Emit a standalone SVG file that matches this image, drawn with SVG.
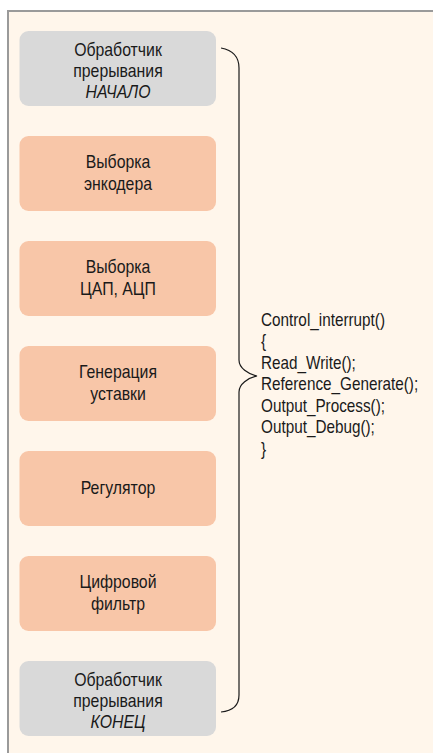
<svg xmlns="http://www.w3.org/2000/svg" width="433" height="753" viewBox="0 0 433 753">
<style>
.t{font-family:"Liberation Sans",Arial,sans-serif;font-size:18px;fill:#1a1a1a;text-anchor:middle}
.i{font-style:italic}
.c{font-family:"Liberation Sans",Arial,sans-serif;font-size:18px;fill:#1a1a1a}
.g{fill:#d9d9d9}
.o{fill:#f8c6a8}
</style>
<rect x="0" y="0" width="433" height="753" fill="#ffffff"/>
<rect x="8" y="11" width="440" height="760" fill="#fff6eb" stroke="#9a9a9a" stroke-width="2"/>
<g id="n1"><rect class="g" x="19.5" y="31" width="196.5" height="75" rx="9"/>
<g transform="matrix(0.88,0,0,1,118,0)"><text class="t" x="0" y="56">Обработчик</text><text class="t" x="0" y="77">прерывания</text><text class="t i" x="0" y="98">НАЧАЛО</text></g></g>
<g id="n2"><rect class="o" x="19.5" y="136" width="196.5" height="75" rx="9"/>
<g transform="matrix(0.88,0,0,1,118,0)"><text class="t" x="0" y="168">Выборка</text><text class="t" x="0" y="190">энкодера</text></g></g>
<g id="n3"><rect class="o" x="19.5" y="241" width="196.5" height="75" rx="9"/>
<g transform="matrix(0.88,0,0,1,118,0)"><text class="t" x="0" y="273">Выборка</text><text class="t" x="0" y="295">ЦАП, АЦП</text></g></g>
<g id="n4"><rect class="o" x="19.5" y="346" width="196.5" height="75" rx="9"/>
<g transform="matrix(0.88,0,0,1,118,0)"><text class="t" x="0" y="378">Генерация</text><text class="t" x="0" y="400">уставки</text></g></g>
<g id="n5"><rect class="o" x="19.5" y="451" width="196.5" height="75" rx="9"/>
<g transform="matrix(0.88,0,0,1,118,0)"><text class="t" x="0" y="494">Регулятор</text></g></g>
<g id="n6"><rect class="o" x="19.5" y="556" width="196.5" height="75" rx="9"/>
<g transform="matrix(0.88,0,0,1,118,0)"><text class="t" x="0" y="588">Цифровой</text><text class="t" x="0" y="610">фильтр</text></g></g>
<g id="n7"><rect class="g" x="19.5" y="661" width="196.5" height="75" rx="9"/>
<g transform="matrix(0.88,0,0,1,118,0)"><text class="t" x="0" y="686">Обработчик</text><text class="t" x="0" y="707">прерывания</text><text class="t i" x="0" y="728">КОНЕЦ</text></g></g>
<g id="connectors">
<path d="M221,48 C232,50 239,56 239,68 V360 C239,368 248,374 257,376 C248,378 239,384 239,392 V695 C239,706 232,711 221,712" fill="none" stroke="#1a1a1a" stroke-width="1.2"/>
</g>
<g id="code" transform="matrix(0.85,0,0,1,261,0)">
<text class="c" x="0" y="326">Control_interrupt()</text>
<text class="c" x="0" y="347.5">{</text>
<text class="c" x="0" y="369">Read_Write();</text>
<text class="c" x="0" y="390.5">Reference_Generate();</text>
<text class="c" x="0" y="412">Output_Process();</text>
<text class="c" x="0" y="433.5">Output_Debug();</text>
<text class="c" x="0" y="455">}</text>
</g>
</svg>
